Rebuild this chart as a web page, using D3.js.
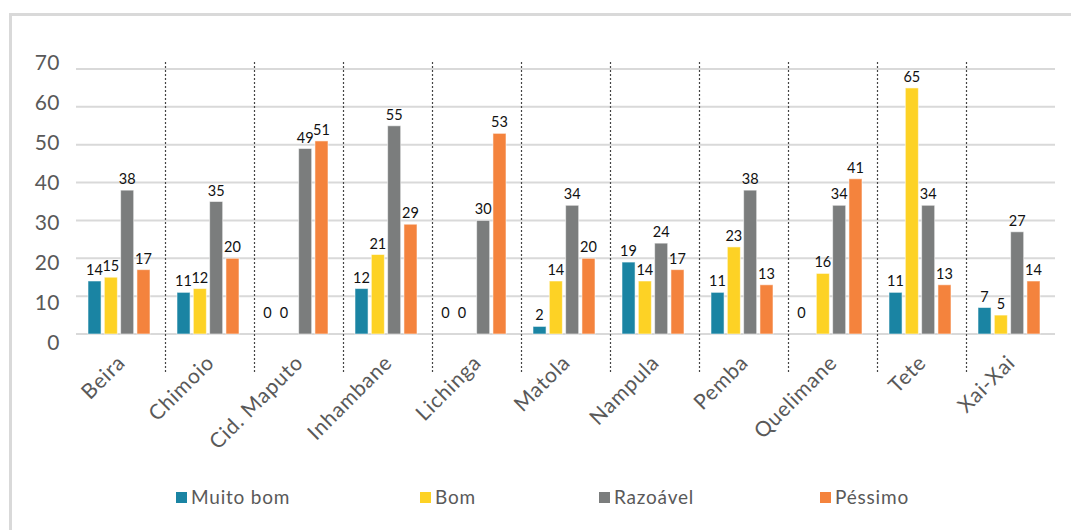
<!DOCTYPE html>
<html>
<head>
<meta charset="utf-8">
<script src="https://cdn.jsdelivr.net/npm/d3@7"></script>
<style>
  html, body { margin: 0; padding: 0; background: #fff; }
  svg { display: block; font-family: "Lato", "Noto Sans", sans-serif; }
</style>
</head>
<body>
<svg id="chart" width="1071" height="530"></svg>
<script>
// Avaliação por cidade (%)
const categories = ["Beira", "Chimoio", "Cid. Maputo", "Inhambane", "Lichinga", "Matola",
                    "Nampula", "Pemba", "Quelimane", "Tete", "Xai-Xai"];
const seriesNames = ["Muito bom", "Bom", "Razoável", "Péssimo"];
const muitoBom = [14, 11, 0, 12, 0, 2, 19, 11, 0, 11, 7];
const bom      = [15, 12, 0, 21, 0, 14, 14, 23, 16, 65, 5];
const razoavel = [38, 35, 49, 55, 30, 34, 24, 38, 34, 34, 27];
const pessimo  = [17, 20, 51, 29, 53, 20, 17, 13, 41, 13, 14];
const yTicks = [0, 10, 20, 30, 40, 50, 60, 70];
const colors = ["#1a84a3", "#fdd225", "#7b7d7d", "#f4833d"];

const seriesValues = [muitoBom, bom, razoavel, pessimo];

const svg = d3.select("#chart");

// outer frame
svg.append("rect")
  .attr("x", 10.5).attr("y", 14.5)
  .attr("width", 1100).attr("height", 600)
  .attr("fill", "none").attr("stroke", "#d9d9d9").attr("stroke-width", 3);

const left = 76, right = 1055;
const y = d3.scaleLinear().domain([0, 70]).range([334, 69]);
const yLabel = d3.scaleLinear().domain([0, 70]).range([341, 61]);
const x = d3.scaleBand().domain(categories).range([left, right]).padding(0);
const inner = d3.scaleBand().domain(seriesNames).range([0, 62]).paddingInner(0.2);
const groupOffset = 12;

// horizontal gridlines
svg.append("g").selectAll("line").data(yTicks).join("line")
  .attr("x1", left).attr("x2", right)
  .attr("y1", d => y(d)).attr("y2", d => y(d))
  .attr("stroke", "#d9d9d9").attr("stroke-width", 2);

// y tick labels
svg.append("g").selectAll("text").data(yTicks).join("text")
  .attr("x", 60).attr("y", d => yLabel(d))
  .attr("text-anchor", "end").attr("dominant-baseline", "central")
  .attr("fill", "#595959").attr("font-size", 21)
  .attr("letter-spacing", 0.5)
  .text(d => d);

// dotted separators between cities
svg.append("g").selectAll("line").data(categories.slice(1)).join("line")
  .attr("x1", d => x(d) + 0.5).attr("x2", d => x(d) + 0.5)
  .attr("y1", 62).attr("y2", 372)
  .attr("stroke", "#444").attr("stroke-width", 1.2)
  .attr("stroke-dasharray", "2,2");

// bars and value labels
const cells = [];
categories.forEach((c, i) => {
  seriesNames.forEach((s, k) => {
    cells.push({ city: c, series: s, value: seriesValues[k][i], color: colors[k] });
  });
});

const gBars = svg.append("g");
gBars.selectAll("rect").data(cells.filter(d => d.value > 0)).join("rect")
  .attr("x", d => x(d.city) + groupOffset + inner(d.series))
  .attr("y", d => y(d.value))
  .attr("width", inner.bandwidth())
  .attr("height", d => y(0) - y(d.value))
  .attr("fill", d => d.color)
  .attr("stroke", "rgba(255,255,255,0.55)").attr("stroke-width", 1);

gBars.selectAll("text").data(cells).join("text")
  .attr("x", d => x(d.city) + groupOffset + inner(d.series) + inner.bandwidth() / 2 - (d.value === 0 ? 5 : 0))
  .attr("y", d => y(d.value) - (d.value === 0 ? 16 : 6))
  .attr("text-anchor", "middle")
  .attr("fill", "#111").attr("font-size", 14.5)
  .text(d => d.value);

// city labels, rotated
svg.append("g").selectAll("text").data(categories).join("text")
  .attr("transform", d => `translate(${x(d) + x.bandwidth() / 2 + 6},${364}) rotate(-45)`)
  .attr("text-anchor", "end")
  .attr("fill", "#595959").attr("font-size", 21)
  .attr("letter-spacing", 0.8)
  .text(d => d);

// legend
const legendX = [176, 420, 599, 820];
const legend = svg.append("g");
seriesNames.forEach((s, k) => {
  legend.append("rect")
    .attr("x", legendX[k]).attr("y", 492)
    .attr("width", 11).attr("height", 11)
    .attr("fill", colors[k]);
  legend.append("text")
    .attr("x", legendX[k] + 15).attr("y", 504)
    .attr("fill", "#595959").attr("font-size", 19)
    .attr("letter-spacing", 0.8)
    .text(s);
});
</script>
</body>
</html>
